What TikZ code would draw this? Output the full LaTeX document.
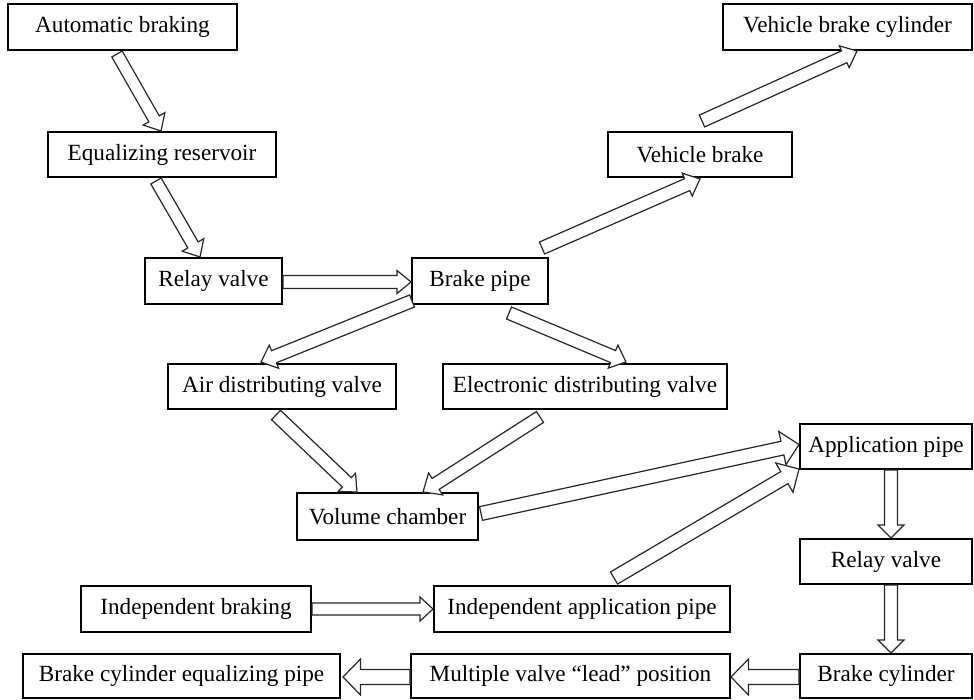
\documentclass[tikz,border=0pt]{standalone}
\usepackage{fontspec}
\setmainfont{Liberation Serif}
\usetikzlibrary{calc}
\tikzset{
  box/.style={draw, line width=1pt, inner sep=0pt, font=\fontsize{11.6}{13}\selectfont},
  barrowline/.style={draw=black!85, line width=0.6pt, fill=white, line join=miter},
}
% #1 tail, #2 tip, #3 shaft half width, #4 head half width, #5 head length
\newcommand\barrow[5]{%
  \path ($(#2)!#5!(#1)$) coordinate (ba);
  \draw[barrowline] ($(#1)!#3!90:(#2)$) -- ($(ba)!#3!90:(#2)$) -- ($(ba)!#4!90:(#2)$) -- (#2)
    -- ($(ba)!#4!-90:(#2)$) -- ($(ba)!#3!-90:(#2)$) -- ($(#1)!#3!-90:(#2)$) -- cycle;
}
\begin{document}
\begin{tikzpicture}[x=0.5pt,y=-0.5pt]
\useasboundingbox (0,0) rectangle (974,700);
% boxes
\node[box, minimum width=114.5pt, minimum height=23pt] (auto)    at (122.5,27)  {Automatic braking};
\node[box, minimum width=114pt,   minimum height=22.5pt] (eqres) at (162,154.5) {Equalizing reservoir};
\node[box, minimum width=68.5pt,  minimum height=23pt] (relayL)  at (213.5,281) {Relay valve};
\node[box, minimum width=68pt,    minimum height=23pt] (bpipe)   at (480,281)   {Brake pipe};
\node[box, minimum width=114pt,   minimum height=22.5pt] (airdv) at (282,386.5) {Air distributing valve};
\node[box, minimum width=142pt,   minimum height=22.5pt] (elecdv) at (585,386.5) {Electronic distributing valve};
\node[box, minimum width=90.5pt,  minimum height=23.5pt] (volch) at (387.5,516.5) {Volume chamber};
\node[box, minimum width=86pt,    minimum height=22.5pt] (apppipe) at (886,446.5) {Application pipe};
\node[box, minimum width=86pt,    minimum height=22.5pt] (relayR) at (886,561.5) {Relay valve};
\node[box, minimum width=86pt,    minimum height=22pt]   (bcyl)   at (886,676)   {Brake cylinder};
\node[box, minimum width=124.5pt, minimum height=23pt]   (vbcyl)  at (847.5,27)  {Vehicle brake cylinder};
\node[box, minimum width=92pt,    minimum height=22.5pt] (vbrake) at (700,154.5) {Vehicle brake};
\node[box, minimum width=115pt,   minimum height=23pt]   (indbr)  at (196,609)   {Independent braking};
\node[box, minimum width=148pt,   minimum height=23pt]   (indapp) at (582,609)   {Independent application pipe};
\node[box, minimum width=158.5pt, minimum height=22pt]   (bceq)   at (181.5,676) {Brake cylinder equalizing pipe};
\node[box, minimum width=159.5pt, minimum height=22pt]   (mvlead) at (570.5,676) {Multiple valve “lead” position};
% connector end points
\coordinate (a1s) at ($(auto.south west)+(110,3)$);
\coordinate (a1e) at ($(eqres.north west)+(114,0)$);
\coordinate (a2s) at ($(eqres.south west)+(109,3)$);
\coordinate (a2e) at ($(relayL.north west)+(56,0)$);
\coordinate (a3s) at ($(relayL.east)+(0,1)$);
\coordinate (a3e) at ($(bpipe.west)+(0,1)$);
\coordinate (a4s) at ($(bpipe.south west)+(1,-4)$);
\coordinate (a4e) at ($(airdv.north west)+(94,-1)$);
\coordinate (a5s) at ($(bpipe.south west)+(98,8)$);
\coordinate (a5e) at ($(elecdv.north west)+(184,-1)$);
\coordinate (a6s) at ($(bpipe.north east)+(-7,-9)$);
\coordinate (a6e) at ($(vbrake.south)+(0,1)$);
\coordinate (a7s) at ($(vbrake.north)+(2,-10)$);
\coordinate (a7e) at ($(vbcyl.south west)+(135,0)$);
\coordinate (a8s) at ($(airdv.south west)+(109,5)$);
\coordinate (a8e) at ($(volch.north west)+(61,0)$);
\coordinate (a9s) at ($(elecdv.south west)+(98,7)$);
\coordinate (a9e) at ($(volch.north west)+(127,0)$);
\coordinate (a10s) at ($(volch.east)+(2,-3)$);
\coordinate (a10e) at ($(apppipe.west)+(0,-2)$);
\coordinate (a11s) at ($(indapp.north west)+(181,-7)$);
\coordinate (a11e) at ($(apppipe.south west)+(0,-1)$);
\coordinate (a13s) at ($(apppipe.south)+(5,0)$);
\coordinate (a13e) at ($(relayR.north)+(5,0)$);
\coordinate (a14s) at ($(relayR.south)+(5,0)$);
\coordinate (a14e) at ($(bcyl.north)+(5,0)$);
\coordinate (a15s) at ($(bcyl.west)+(0,1)$);
\coordinate (a15e) at ($(mvlead.east)+(0,1)$);
\coordinate (a16s) at ($(mvlead.west)+(0,1)$);
\coordinate (a16e) at ($(bceq.east)+(2,1)$);
% connectors
\barrow{a1s}{a1e}{3pt}{6.25pt}{7pt}
\barrow{a2s}{a2e}{3pt}{6.25pt}{7pt}
\barrow{a3s}{a3e}{3.25pt}{5.75pt}{7pt}
\barrow{a4s}{a4e}{3.25pt}{6.25pt}{7pt}
\barrow{a5s}{a5e}{3.25pt}{6.25pt}{7pt}
\barrow{a6s}{a6e}{3.25pt}{6.25pt}{7pt}
\barrow{a7s}{a7e}{3.25pt}{6pt}{7pt}
\barrow{a8s}{a8e}{3.25pt}{6.25pt}{7pt}
\barrow{a9s}{a9e}{3.25pt}{6.5pt}{7.5pt}
\barrow{a10s}{a10e}{3.5pt}{8.5pt}{8.5pt}
\barrow{a11s}{a11e}{3.5pt}{8.5pt}{8.5pt}
\barrow{indbr.east}{indapp.west}{3pt}{6pt}{6.5pt}
\barrow{a13s}{a13e}{3.25pt}{6.5pt}{6.5pt}
\barrow{a14s}{a14e}{3.25pt}{6.5pt}{6.5pt}
\barrow{a15s}{a15e}{3.75pt}{9pt}{8.75pt}
\barrow{a16s}{a16e}{3.75pt}{9pt}{8.75pt}
\end{tikzpicture}
\end{document}
